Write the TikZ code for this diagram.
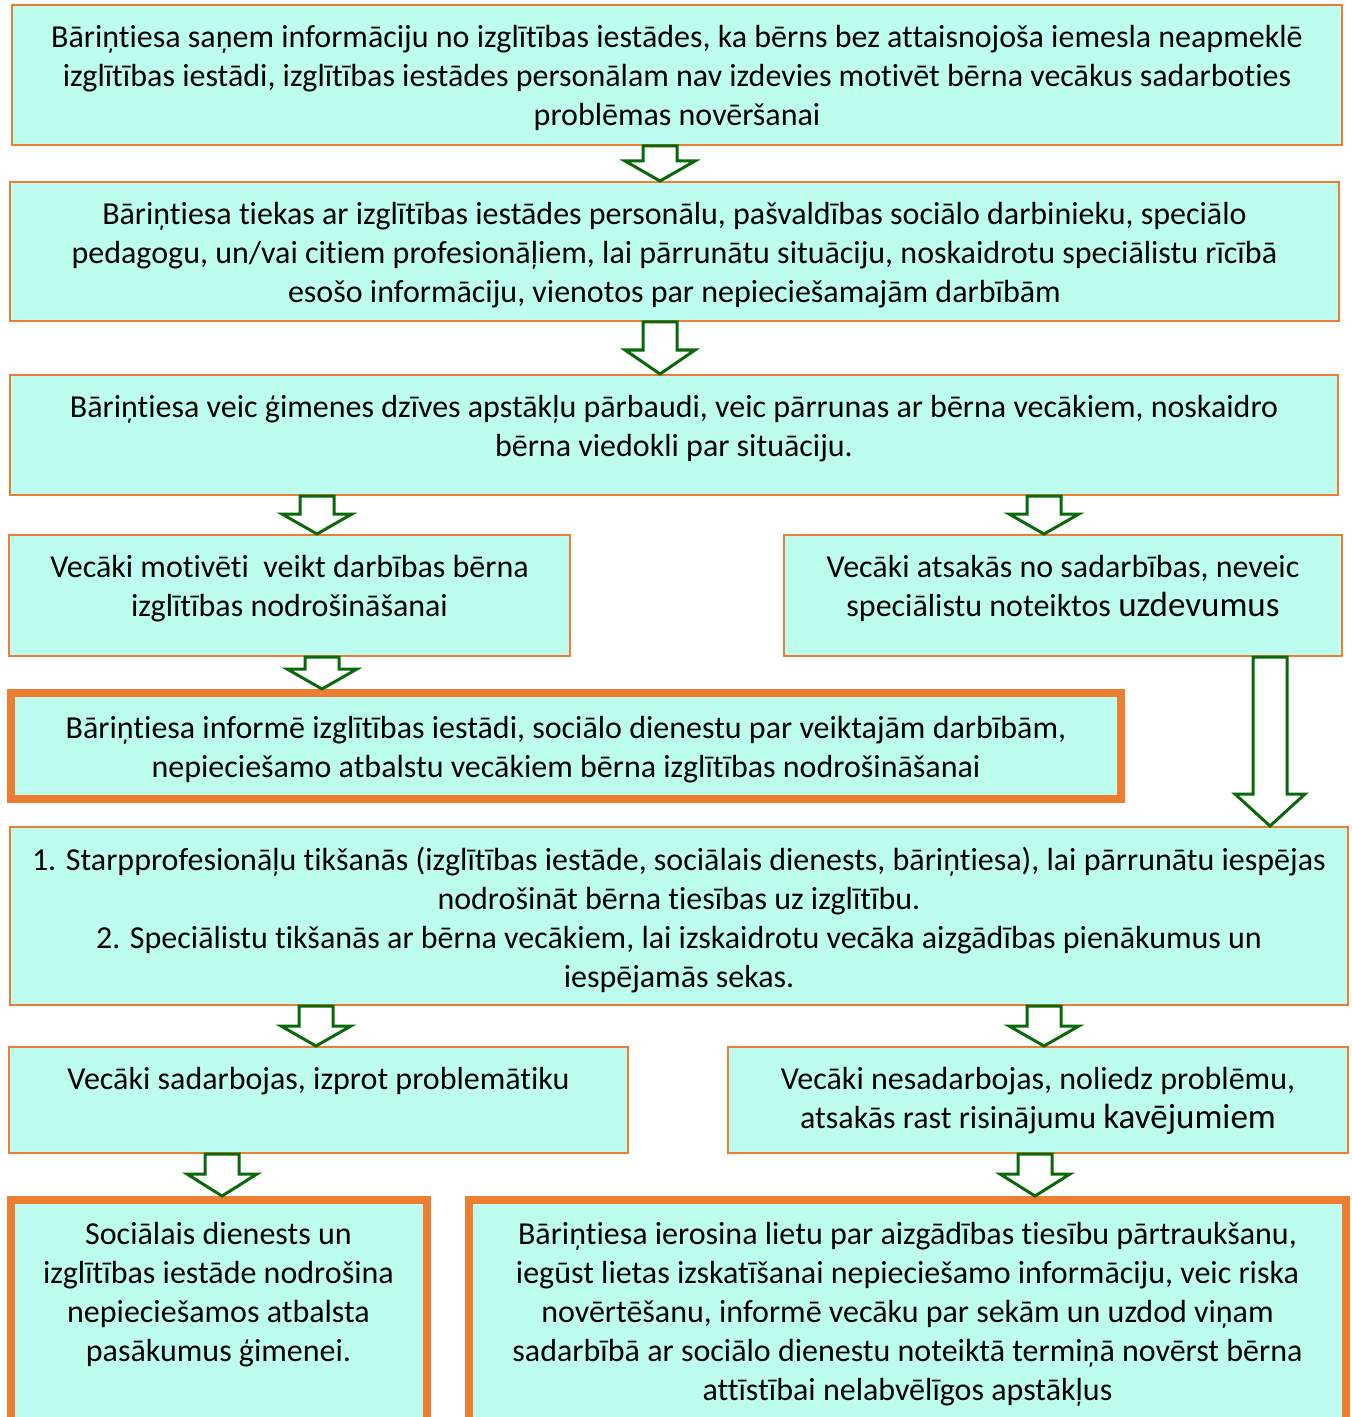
\documentclass[tikz,border=0pt]{standalone}
\usepackage{fontspec}
\setmainfont[Ligatures=NoCommon]{Carlito}
\usetikzlibrary{fit}

\definecolor{boxfill}{RGB}{189,253,239}
\definecolor{boxline}{RGB}{237,125,49}
\definecolor{arrowline}{RGB}{10,104,10}

% block arrow: [head length] x, from node, to node
\newcommand{\blockdown}[4][10pt]{%
  \path (#2,0 |- #3.south) coordinate (top) (#2,0 |- #4.north) coordinate (tip);
  \draw[arrow] ([xshift=-8.5pt]top) -- ([xshift=8.5pt]top)
    -- ([xshift=8.5pt,yshift=#1]tip) -- ([xshift=17.5pt,yshift=#1]tip)
    -- (tip) -- ([xshift=-17.5pt,yshift=#1]tip)
    -- ([xshift=-8.5pt,yshift=#1]tip) -- cycle;}

\begin{document}
\begin{tikzpicture}[
        x=0.5pt, y=-0.5pt,
        box/.style={draw=boxline, fill=boxfill, line width=1pt, inner sep=0pt},
        bigbox/.style={box, line width=4pt},
        txt/.style={anchor=north, inner sep=0pt, align=center, font=\fontsize{16}{19.5}\selectfont},
        arrow/.style={draw=arrowline, fill=white, line width=1.5pt, line join=miter}
    ]
    \useasboundingbox (0,0) rectangle (1351,1417);
    % Boxes
    \node[box, fit={(12,5) (1342,145)}] (b1) {};
    \node[box, fit={(10,182) (1339,321)}] (b2) {};
    \node[box, fit={(10,375) (1338,495)}] (b3) {};
    \node[box, fit={(9,535) (570,656)}] (b4l) {};
    \node[box, fit={(784,535) (1342,656)}] (b4r) {};
    \node[bigbox, fit={(11,693) (1121,799)}] (b5) {};
    \node[box, fit={(10,827) (1348,1005)}] (b6) {};
    \node[box, fit={(9,1047) (628,1153)}] (b7l) {};
    \node[box, fit={(728,1047) (1348,1153)}] (b7r) {};
    \node[bigbox, fit={(10.5,1200) (426.5,1460)}] (b8l) {};
    \node[bigbox, fit={(469,1200) (1346,1460)}] (b8r) {};
    % Texts
    \node[txt] (t1) at ([yshift=-10.5pt]b1.north) {Bāriņtiesa saņem informāciju no izglītības iestādes, ka bērns bez attaisnojoša iemesla neapmeklē\\
        izglītības iestādi, izglītības iestādes personālam nav izdevies motivēt bērna vecākus sadarboties\\
        problēmas novēršanai};
    \node[txt] (t2) at ([yshift=-10.5pt]b2.north) {Bāriņtiesa tiekas ar izglītības iestādes personālu, pašvaldības sociālo darbinieku, speciālo\\
        pedagogu, un/vai citiem profesionāļiem, lai pārrunātu situāciju, noskaidrotu speciālistu rīcībā\\
        esošo informāciju, vienotos par nepieciešamajām darbībām};
    \node[txt] (t3) at ([yshift=-10.5pt]b3.north) {Bāriņtiesa veic ģimenes dzīves apstākļu pārbaudi, veic pārrunas ar bērna vecākiem, noskaidro\\
        bērna viedokli par situāciju.};
    \node[txt] (t4l) at ([yshift=-10.5pt]b4l.north) {Vecāki motivēti\ \ veikt darbības bērna\\
        izglītības nodrošināšanai};
    \node[txt] (t4r) at ([yshift=-10.5pt]b4r.north) {Vecāki atsakās no sadarbības, neveic\\
        speciālistu noteiktos {\fontsize{17.5}{19.5}\selectfont uzdevumus}};
    \node[txt] (t5) at ([yshift=-13.5pt]b5.north) {Bāriņtiesa informē izglītības iestādi, sociālo dienestu par veiktajām darbībām,\\
        nepieciešamo atbalstu vecākiem bērna izglītības nodrošināšanai};
    \node[txt] (t6) at ([yshift=-10.5pt]b6.north) {1. Starpprofesionāļu tikšanās (izglītības iestāde, sociālais dienests, bāriņtiesa), lai pārrunātu iespējas\\
        nodrošināt bērna tiesības uz izglītību.\\
        2. Speciālistu tikšanās ar bērna vecākiem, lai izskaidrotu vecāka aizgādības pienākumus un\\
        iespējamās sekas.};
    \node[txt] (t7l) at ([yshift=-10.5pt]b7l.north) {Vecāki sadarbojas, izprot problemātiku};
    \node[txt] (t7r) at ([yshift=-10.5pt]b7r.north) {Vecāki nesadarbojas, noliedz problēmu,\\
        atsakās rast risinājumu {\fontsize{17.5}{19.5}\selectfont kavējumiem}};
    \node[txt] (t8l) at ([yshift=-13pt]b8l.north) {Sociālais dienests un\\
        izglītības iestāde nodrošina\\
        nepieciešamos atbalsta\\
        pasākumus ģimenei.};
    \node[txt] (t8r) at ([yshift=-13pt]b8r.north) {Bāriņtiesa ierosina lietu par aizgādības tiesību pārtraukšanu,\\
        iegūst lietas izskatīšanai nepieciešamo informāciju, veic riska\\
        novērtēšanu, informē vecāku par sekām un uzdod viņam\\
        sadarbībā ar sociālo dienestu noteiktā termiņā novērst bērna\\
        attīstībai nelabvēlīgos apstākļus};
    % Arrows
    \blockdown{660}{b1}{b2}
    \blockdown[12pt]{660}{b2}{b3}
    \blockdown{317}{b3}{b4l}
    \blockdown{1044}{b3}{b4r}
    \blockdown{322}{b4l}{b5}
    \blockdown[16pt]{1270}{b4r}{b6}
    \blockdown{316}{b6}{b7l}
    \blockdown{1044}{b6}{b7r}
    \blockdown[11pt]{222}{b7l}{b8l}
    \blockdown[11pt]{1035}{b7r}{b8r}
\end{tikzpicture}
\end{document}
